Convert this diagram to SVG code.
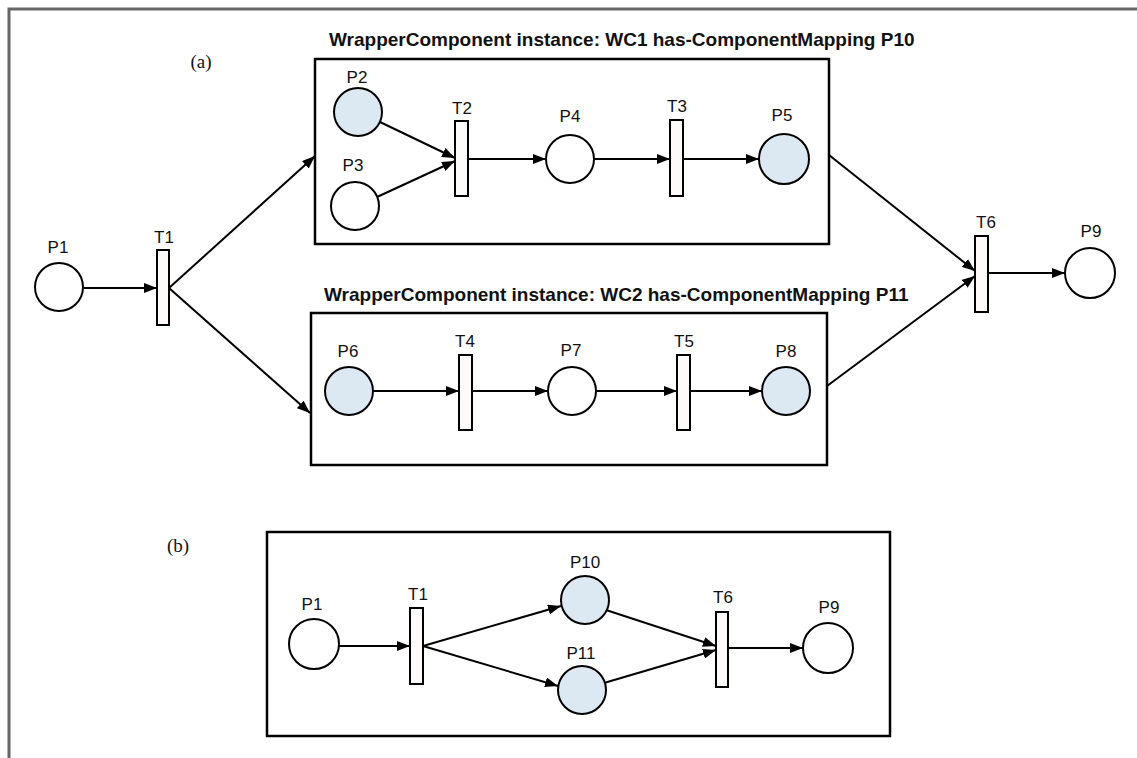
<svg xmlns="http://www.w3.org/2000/svg" width="1137" height="758" viewBox="0 0 1137 758">
<style>
.frame{stroke:#666;stroke-width:3;fill:none}
.box{fill:none;stroke:#000;stroke-width:2.5}
.pl{fill:#fff;stroke:#000;stroke-width:2}
.pf{fill:#dce9f3;stroke:#000;stroke-width:2}
.tr{fill:#fffafa;stroke:#000;stroke-width:2}
.lbl{font-family:"Liberation Sans",Arial,sans-serif;font-size:17px;fill:#111;text-anchor:middle}
.ttl{font-family:"Liberation Sans",Arial,sans-serif;font-size:19px;font-weight:bold;fill:#111}
.cap{font-family:"Liberation Serif","Times New Roman",serif;font-size:19px;fill:#111;text-anchor:middle}
.arc{stroke:#000;stroke-width:2;fill:none;marker-end:url(#ah)}
</style>
<defs>
<marker id="ah" markerUnits="userSpaceOnUse" markerWidth="13" markerHeight="10" refX="13" refY="5" orient="auto">
<path d="M0,0 L13,5 L0,10 z" fill="#000"/>
</marker>
</defs>
<rect width="1137" height="758" fill="#fff"/>
<path class="frame" d="M9,758 V9 H1137"/>

<text class="cap" x="201" y="68">(a)</text>
<text class="cap" x="178" y="552">(b)</text>

<g id="box-wc1">
<rect class="box" x="315" y="59" width="514" height="185"/>
<text class="ttl" x="329" y="46">WrapperComponent instance: WC1 has-ComponentMapping P10</text>
</g>
<g id="box-wc2">
<rect class="box" x="311" y="313" width="516" height="152"/>
<text class="ttl" x="324" y="301">WrapperComponent instance: WC2 has-ComponentMapping P11</text>
</g>
<g id="box-b">
<rect class="box" x="267" y="532" width="623" height="204"/>
</g>

<g id="connectors">
<line class="arc" x1="84" y1="288" x2="157" y2="288"/>
<line class="arc" x1="169" y1="288" x2="315" y2="156"/>
<line class="arc" x1="169" y1="288" x2="310" y2="413"/>
<line class="arc" x1="380" y1="122" x2="455" y2="158"/>
<line class="arc" x1="377" y1="197" x2="455" y2="161"/>
<line class="arc" x1="468" y1="159" x2="546" y2="159"/>
<line class="arc" x1="594" y1="159" x2="670" y2="159"/>
<line class="arc" x1="683" y1="159" x2="759" y2="159"/>
<line class="arc" x1="373" y1="391" x2="459" y2="391"/>
<line class="arc" x1="472" y1="391" x2="548" y2="391"/>
<line class="arc" x1="596" y1="391" x2="677" y2="391"/>
<line class="arc" x1="690" y1="391" x2="762" y2="391"/>
<line class="arc" x1="829" y1="155" x2="975" y2="271"/>
<line class="arc" x1="827" y1="386" x2="975" y2="276"/>
<line class="arc" x1="988" y1="273" x2="1065" y2="273"/>
<line class="arc" x1="339" y1="646" x2="410" y2="646"/>
<line class="arc" x1="423" y1="646" x2="561" y2="606"/>
<line class="arc" x1="423" y1="646" x2="558" y2="686"/>
<line class="arc" x1="606" y1="610" x2="716" y2="646"/>
<line class="arc" x1="604" y1="683" x2="716" y2="650"/>
<line class="arc" x1="728" y1="648" x2="803" y2="648"/>
</g>

<g id="a-P1"><circle class="pl" cx="59" cy="287" r="24"/><text class="lbl" x="58" y="253">P1</text></g>
<g id="a-T1"><rect class="tr" x="157" y="250" width="12" height="75"/><text class="lbl" x="164" y="243">T1</text></g>
<g id="a-P2"><circle class="pf" cx="358" cy="112" r="24"/><text class="lbl" x="357" y="83">P2</text></g>
<g id="a-P3"><circle class="pl" cx="355" cy="206" r="24"/><text class="lbl" x="353" y="171">P3</text></g>
<g id="a-T2"><rect class="tr" x="455" y="121" width="13" height="75"/><text class="lbl" x="462" y="114">T2</text></g>
<g id="a-P4"><circle class="pl" cx="570" cy="159" r="24"/><text class="lbl" x="570" y="122">P4</text></g>
<g id="a-T3"><rect class="tr" x="670" y="120" width="13" height="76"/><text class="lbl" x="677" y="112">T3</text></g>
<g id="a-P5"><circle class="pf" cx="784" cy="159" r="25"/><text class="lbl" x="782" y="121">P5</text></g>
<g id="a-P6"><circle class="pf" cx="349" cy="391" r="24"/><text class="lbl" x="348" y="357">P6</text></g>
<g id="a-T4"><rect class="tr" x="459" y="355" width="13" height="75"/><text class="lbl" x="465" y="347">T4</text></g>
<g id="a-P7"><circle class="pl" cx="572" cy="391" r="24"/><text class="lbl" x="571" y="356">P7</text></g>
<g id="a-T5"><rect class="tr" x="677" y="355" width="13" height="75"/><text class="lbl" x="684" y="347">T5</text></g>
<g id="a-P8"><circle class="pf" cx="786" cy="391" r="24"/><text class="lbl" x="786" y="357">P8</text></g>
<g id="a-T6"><rect class="tr" x="975" y="236" width="13" height="76"/><text class="lbl" x="986" y="228">T6</text></g>
<g id="a-P9"><circle class="pl" cx="1090" cy="273" r="25"/><text class="lbl" x="1091" y="237">P9</text></g>

<g id="b-P1"><circle class="pl" cx="314" cy="644" r="25"/><text class="lbl" x="312" y="610">P1</text></g>
<g id="b-T1"><rect class="tr" x="410" y="608" width="13" height="76"/><text class="lbl" x="418" y="600">T1</text></g>
<g id="b-P10"><circle class="pf" cx="585" cy="600" r="24"/><text class="lbl" x="585" y="568">P10</text></g>
<g id="b-P11"><circle class="pf" cx="582" cy="690" r="24"/><text class="lbl" x="581" y="659">P11</text></g>
<g id="b-T6"><rect class="tr" x="716" y="612" width="12" height="75"/><text class="lbl" x="723" y="603">T6</text></g>
<g id="b-P9"><circle class="pl" cx="828" cy="648" r="25"/><text class="lbl" x="829" y="613">P9</text></g>
</svg>
